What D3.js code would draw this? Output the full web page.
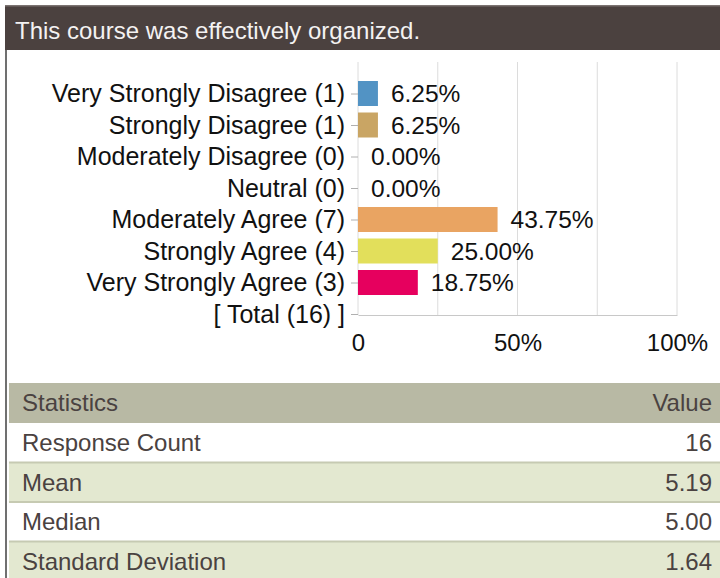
<!DOCTYPE html>
<html>
<head>
<meta charset="utf-8">
<script src="https://cdn.jsdelivr.net/npm/d3@7"></script>
<style>
  html, body { margin: 0; padding: 0; background: #ffffff; }
  svg { display: block; font-family: "Liberation Sans", Arial, sans-serif; }
</style>
</head>
<body>
<svg id="chart" width="720" height="578"></svg>
<script>
// ---- data ----
const title = "This course was effectively organized.";
const categories = ["Very Strongly Disagree", "Strongly Disagree", "Moderately Disagree", "Neutral",
                    "Moderately Agree", "Strongly Agree", "Very Strongly Agree"];
const counts = [1, 1, 0, 0, 7, 4, 3];
const percents = [6.25, 6.25, 0.00, 0.00, 43.75, 25.00, 18.75];
const total = 16;
const barColors = ["#5293c4", "#c9a564", "#9e9e9e", "#9e9e9e", "#e9a462", "#e2df5b", "#e6005e"];
const xTicks = [0, 50, 100];
const xTickLabels = ["0", "50%", "100%"];
const gridTicks = [0, 25, 50, 75, 100];
const statNames = ["Response Count", "Mean", "Median", "Standard Deviation"];
const statValues = ["16", "5.19", "5.00", "1.64"];
const statHeader = ["Statistics", "Value"];

// ---- drawing ----
const svg = d3.select("#chart");

// outer frame
svg.append("rect").attr("x", 5).attr("y", 50).attr("width", 2).attr("height", 528).attr("fill", "#707070");

// title bar
svg.append("rect").attr("x", 5).attr("y", 5).attr("width", 715).attr("height", 45).attr("fill", "#4b413f");
svg.append("rect").attr("x", 5).attr("y", 5).attr("width", 715).attr("height", 1.5).attr("fill", "#7b7371");
svg.append("text").attr("x", 15).attr("y", 39).attr("fill", "#f4f2f2")
  .attr("font-size", 24).text(title);

// scales
const rowLabels = categories.map((c, i) => `${c} (${counts[i]})`).concat([`[ Total (${total}) ]`]);
const x = d3.scaleLinear().domain([0, 100]).range([358, 677]);
const y = d3.scalePoint().domain(rowLabels).range([93.5, 314]);
const step = y.step();
const barH = 25;

// grid
svg.append("g").selectAll("line").data(gridTicks).join("line")
  .attr("x1", d => x(d)).attr("x2", d => x(d))
  .attr("y1", 93.5 - step).attr("y2", 315)
  .attr("stroke", "#dcdcdc").attr("stroke-width", 1);

// bottom axis
const xAxis = d3.axisBottom(x).tickValues(xTicks).tickFormat((d, i) => xTickLabels[i])
  .tickSizeInner(0).tickSizeOuter(0).tickPadding(19);
const gx = svg.append("g").attr("transform", "translate(0,315)").call(xAxis);
gx.select(".domain").attr("stroke", "#c8c8c8");
gx.selectAll("text").attr("font-size", 24).attr("fill", "#111").attr("font-family", "Liberation Sans, Arial, sans-serif");

// left axis
const yAxis = d3.axisLeft(y).tickSizeInner(7).tickSizeOuter(0).tickPadding(6);
const gy = svg.append("g").attr("transform", "translate(358,0)").call(yAxis);
gy.select(".domain").remove();
gy.selectAll(".tick line").attr("stroke", "#b0b0b0");
gy.selectAll("text").attr("font-size", 25).attr("fill", "#111").attr("font-family", "Liberation Sans, Arial, sans-serif");

// bars
const rows = categories.map((c, i) => ({ label: rowLabels[i], pct: percents[i], color: barColors[i] }));
svg.append("g").selectAll("rect").data(rows).join("rect")
  .attr("x", x(0)).attr("y", d => y(d.label) - barH / 2)
  .attr("width", d => x(d.pct) - x(0)).attr("height", barH)
  .attr("fill", d => d.color);

svg.append("g").selectAll("text").data(rows).join("text")
  .attr("x", d => x(d.pct) + 13).attr("y", d => y(d.label))
  .attr("dy", "0.35em").attr("font-size", 24.5).attr("fill", "#111")
  .text(d => d.pct.toFixed(2) + "%");

// statistics table
const tableX = 9, tableW = 711, headerY = 383, headerH = 40, rowH = 39.5;
svg.append("rect").attr("x", tableX).attr("y", headerY).attr("width", tableW).attr("height", headerH).attr("fill", "#b8b9a4");
svg.append("text").attr("x", 22).attr("y", headerY + headerH / 2).attr("dy", "0.35em")
  .attr("font-size", 24).attr("fill", "#4a4241").text(statHeader[0]);
svg.append("text").attr("x", 712).attr("y", headerY + headerH / 2).attr("dy", "0.35em")
  .attr("text-anchor", "end").attr("font-size", 24).attr("fill", "#4a4241").text(statHeader[1]);

const tr = svg.append("g").selectAll("g").data(statNames).join("g")
  .attr("transform", (d, i) => `translate(0,${headerY + headerH + i * rowH})`);
tr.append("rect").attr("x", tableX).attr("y", 0).attr("width", tableW).attr("height", rowH)
  .attr("fill", (d, i) => i % 2 ? "#e3e8d0" : "#ffffff");
tr.filter((d, i) => i > 0).append("rect").attr("x", tableX).attr("y", -1).attr("width", tableW).attr("height", 2)
  .attr("fill", "#c6cab2");
tr.append("text").attr("x", 22).attr("y", rowH / 2).attr("dy", "0.35em")
  .attr("font-size", 24).attr("fill", "#4a4241").text(d => d);
tr.append("text").attr("x", 712).attr("y", rowH / 2).attr("dy", "0.35em")
  .attr("text-anchor", "end").attr("font-size", 24).attr("fill", "#4a4241").text((d, i) => statValues[i]);
</script>
</body>
</html>
